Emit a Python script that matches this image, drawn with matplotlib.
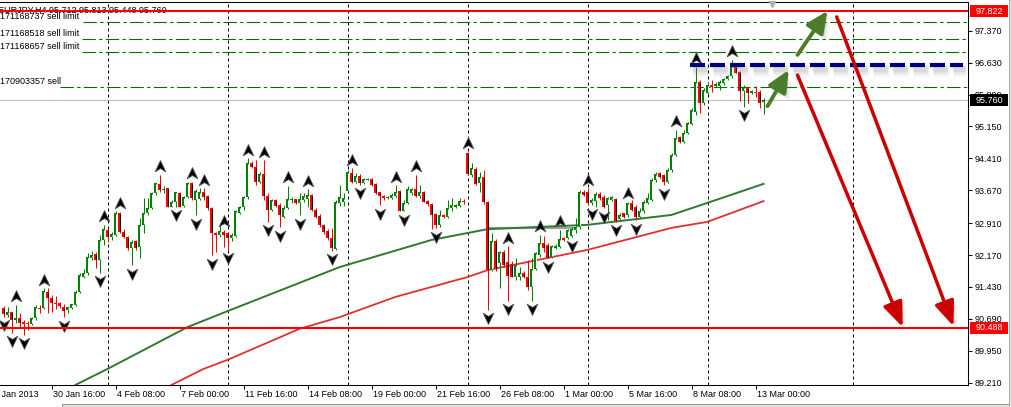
import matplotlib
matplotlib.use("Agg")
import matplotlib.pyplot as plt
import matplotlib.patheffects as pe
import matplotlib.transforms as mtransforms
from matplotlib.patches import Rectangle
from matplotlib.path import Path
import numpy as np

plt.rcParams['font.family'] = ['Liberation Sans', 'DejaVu Sans']
plt.rcParams['font.size'] = 6.5

# EURJPY H4 bars, 28 Jan 16:00 .. 13 Mar 08:00 2013
opens = [90.94, 90.77, 90.84, 90.66, 90.70, 90.61, 90.60, 90.57, 90.70, 90.95,
         90.94, 91.32, 91.17, 91.05, 91.05, 90.97, 90.90, 90.95, 91.01, 91.31,
         91.67, 91.75, 92.09, 92.19, 92.06, 92.52, 92.74, 92.58, 92.64, 93.14,
         92.71, 92.58, 92.33, 92.50, 92.36, 92.87, 93.14, 93.25, 93.60, 93.81,
         93.68, 93.72, 93.29, 93.41, 93.60, 93.31, 93.52, 93.83, 93.45, 93.46,
         93.62, 93.54, 93.25, 92.67, 92.63, 92.71, 92.67, 92.56, 92.60, 93.15,
         93.28, 93.51, 94.31, 94.22, 93.87, 94.05, 93.55, 93.21, 93.45, 93.33,
         93.06, 93.25, 93.45, 93.46, 93.37, 93.45, 93.48, 93.56, 93.21, 93.08,
         92.87, 92.73, 92.56, 92.30, 93.38, 93.41, 93.66, 94.07, 93.87, 94.00,
         93.85, 93.92, 93.93, 93.81, 93.62, 93.54, 93.49, 93.49, 93.55, 93.66,
         93.20, 93.37, 93.60, 93.69, 93.55, 93.64, 93.43, 93.35, 93.11, 92.87,
         93.10, 93.05, 93.25, 93.28, 93.31, 93.43, 94.53, 94.03, 94.16, 93.83,
         93.97, 93.41, 91.82, 92.50, 91.99, 92.25, 92.02, 91.96, 91.67, 91.67,
         91.75, 91.67, 91.44, 91.84, 92.17, 92.44, 92.40, 92.12, 92.33, 92.35,
         92.56, 92.56, 92.61, 92.74, 92.81, 93.64, 93.64, 93.37, 93.43, 93.59,
         93.52, 93.32, 93.45, 93.46, 93.00, 93.14, 93.10, 93.37, 93.29, 93.06,
         93.18, 93.38, 93.45, 93.91, 94.08, 94.03, 93.87, 94.13, 94.49, 94.90,
         94.80, 94.99, 95.21, 95.49, 96.19, 95.70, 95.93, 96.11, 96.09, 96.10,
         96.15, 96.24, 96.31, 96.58, 96.41, 95.98, 96.04, 95.92, 95.96, 95.96,
         95.712]
highs = [90.99, 90.97, 90.86, 91.01, 90.83, 90.66, 90.63, 90.74, 91.01, 91.01,
         91.40, 91.40, 91.24, 91.23, 91.09, 91.04, 90.97, 91.04, 91.36, 91.75,
         91.84, 92.21, 92.26, 92.25, 92.64, 92.87, 92.77, 92.71, 93.18, 93.17,
         92.77, 92.61, 92.53, 92.53, 93.02, 93.49, 93.49, 93.62, 93.85, 94.03,
         93.77, 93.73, 93.45, 93.64, 93.64, 93.54, 93.87, 93.87, 93.70, 93.72,
         93.72, 93.56, 93.28, 92.71, 92.91, 92.75, 92.71, 92.67, 93.21, 93.31,
         93.54, 94.41, 94.34, 94.37, 94.10, 94.37, 93.60, 93.48, 93.48, 93.37,
         93.33, 93.77, 93.51, 93.48, 93.60, 93.60, 93.69, 93.59, 93.25, 93.12,
         92.89, 92.77, 92.79, 93.45, 93.79, 93.60, 94.14, 94.18, 94.07, 94.05,
         93.96, 93.95, 93.95, 93.83, 93.64, 93.56, 93.55, 93.60, 93.79, 93.68,
         93.45, 93.76, 93.73, 94.03, 93.79, 93.66, 93.45, 93.37, 93.14, 93.22,
         93.12, 93.45, 93.49, 93.36, 93.49, 93.46, 94.57, 94.30, 94.20, 94.10,
         94.14, 93.42, 92.67, 92.55, 92.27, 92.28, 92.37, 92.04, 92.09, 91.90,
         91.79, 92.06, 92.09, 92.25, 92.64, 92.60, 92.46, 92.40, 92.42, 92.75,
         92.58, 92.78, 92.83, 93.02, 93.68, 93.68, 93.72, 93.49, 93.64, 93.62,
         93.56, 93.52, 93.54, 93.49, 93.15, 93.15, 93.41, 93.45, 93.33, 93.25,
         93.45, 93.60, 93.95, 94.10, 94.10, 94.06, 94.18, 94.53, 95.08, 94.92,
         95.07, 95.26, 95.57, 96.54, 96.23, 96.04, 96.17, 96.23, 96.17, 96.23,
         96.27, 96.35, 96.69, 96.61, 96.44, 96.11, 96.07, 96.00, 96.09, 96.00,
         95.813]
lows = [90.74, 90.74, 90.37, 90.59, 90.51, 90.32, 90.43, 90.55, 90.66, 90.83,
        90.91, 90.83, 90.86, 90.93, 90.95, 90.73, 90.82, 90.93, 90.99, 91.28,
        91.63, 91.71, 92.06, 91.86, 91.76, 92.40, 92.48, 92.52, 92.61, 92.67,
        92.56, 92.29, 91.94, 92.29, 92.09, 92.67, 93.10, 93.23, 93.56, 93.64,
        93.60, 93.28, 93.28, 93.29, 93.28, 93.29, 93.49, 93.45, 93.10, 93.45,
        93.45, 93.21, 92.17, 92.25, 92.58, 92.36, 92.29, 92.50, 92.58, 93.12,
        93.21, 93.48, 94.18, 93.79, 93.85, 93.45, 92.94, 93.20, 93.28, 92.81,
        93.04, 93.23, 93.38, 93.35, 93.10, 93.41, 93.29, 93.20, 93.02, 92.83,
        92.66, 92.52, 92.27, 92.29, 93.31, 93.31, 93.64, 93.83, 93.83, 93.80,
        93.82, 93.90, 93.77, 93.58, 93.33, 93.45, 93.46, 93.46, 93.52, 93.18,
        93.18, 93.35, 93.56, 93.52, 93.49, 93.39, 93.30, 92.77, 92.79, 92.83,
        93.02, 93.02, 93.18, 93.25, 93.28, 93.36, 94.03, 93.99, 93.79, 93.64,
        93.35, 90.90, 91.79, 91.80, 91.40, 91.90, 91.11, 91.65, 91.59, 91.59,
        91.63, 91.35, 91.11, 91.82, 92.13, 92.23, 92.09, 92.09, 92.30, 92.33,
        92.49, 92.54, 92.58, 92.69, 92.78, 93.54, 93.33, 93.33, 93.29, 93.45,
        93.25, 92.98, 93.42, 92.94, 92.98, 93.02, 93.06, 93.18, 92.98, 93.02,
        93.14, 93.35, 93.43, 93.87, 93.96, 93.79, 93.85, 94.10, 94.47, 94.77,
        94.76, 94.97, 95.19, 95.42, 95.46, 95.65, 95.90, 95.96, 96.06, 96.00,
        96.11, 96.22, 96.27, 96.38, 95.73, 95.61, 95.69, 95.90, 95.84, 95.57,
        95.448]
closes = [90.80, 90.84, 90.66, 90.72, 90.59, 90.58, 90.57, 90.70, 90.97, 90.91,
          91.34, 91.17, 91.05, 91.04, 91.00, 90.88, 90.96, 91.03, 91.31, 91.71,
          91.76, 92.13, 92.17, 92.06, 92.53, 92.77, 92.58, 92.66, 93.14, 92.71,
          92.58, 92.34, 92.48, 92.33, 92.87, 93.14, 93.25, 93.60, 93.83, 93.68,
          93.70, 93.29, 93.41, 93.62, 93.29, 93.52, 93.83, 93.49, 93.66, 93.62,
          93.52, 93.25, 92.67, 92.63, 92.73, 92.63, 92.56, 92.63, 93.18, 93.28,
          93.51, 94.30, 94.22, 93.87, 94.05, 93.55, 93.21, 93.45, 93.31, 93.10,
          93.25, 93.46, 93.46, 93.37, 93.48, 93.54, 93.56, 93.21, 93.06, 92.87,
          92.70, 92.56, 92.33, 93.41, 93.51, 93.49, 94.09, 93.87, 94.00, 93.83,
          93.93, 93.93, 93.79, 93.60, 93.55, 93.49, 93.52, 93.56, 93.64, 93.20,
          93.38, 93.69, 93.69, 93.55, 93.64, 93.41, 93.35, 93.10, 92.87, 93.10,
          93.05, 93.25, 93.33, 93.33, 93.42, 93.39, 94.06, 94.18, 93.82, 93.99,
          93.39, 91.82, 92.50, 91.84, 92.25, 91.94, 91.69, 91.67, 91.94, 91.76,
          91.65, 91.44, 91.84, 92.21, 92.44, 92.33, 92.11, 92.37, 92.38, 92.54,
          92.52, 92.75, 92.77, 92.83, 93.64, 93.56, 93.37, 93.45, 93.59, 93.49,
          93.29, 93.49, 93.51, 92.97, 93.10, 93.06, 93.37, 93.21, 93.06, 93.20,
          93.41, 93.49, 93.91, 94.06, 93.99, 93.87, 94.14, 94.49, 94.88, 94.80,
          95.01, 95.22, 95.53, 96.19, 95.70, 96.00, 96.11, 96.07, 96.14, 96.17,
          96.24, 96.32, 96.55, 96.40, 95.98, 96.06, 95.92, 95.98, 95.93, 95.69,
          95.760]

# Bill Williams fractals (bar numbers)
up_fractals = [3, 10, 25, 29, 39, 47, 50, 55, 61, 65, 71, 76, 87, 98, 103, 116,
               126, 134, 139, 146, 156, 168, 173, 182]
down_fractals = [0, 2, 5, 15, 24, 32, 43, 48, 52, 56, 66, 69, 74, 82, 89, 94,
                 100, 108, 121, 126, 132, 136, 142, 147, 150, 153, 158, 165, 185]

# moving averages, sampled along the curves
ma_green_bar = [18, 26, 46, 56, 84, 107, 121, 146, 167, 176, 190]
ma_green = [89.16, 89.53, 90.50, 90.87, 91.89, 92.52, 92.77, 92.87, 93.10, 93.38, 93.82]
ma_red_bar = [42, 50, 56, 74, 84, 98, 116, 121, 146, 167, 176, 190]
ma_red = [89.16, 89.53, 89.74, 90.46, 90.73, 91.20, 91.66, 91.82, 92.29, 92.80, 92.94, 93.42]

# axis labels
date_bars = [-4, 12, 28, 44, 60, 76, 92, 108, 124, 140, 156, 172, 188]
date_labels = ["28 Jan 2013", "30 Jan 16:00", "4 Feb 08:00", "7 Feb 00:00", "11 Feb 16:00",
               "14 Feb 08:00", "19 Feb 00:00", "21 Feb 16:00", "26 Feb 08:00", "1 Mar 00:00",
               "5 Mar 16:00", "8 Mar 08:00", "13 Mar 00:00"]
price_ticks = [97.370, 96.630, 95.890, 95.150, 94.410, 93.670, 92.910, 92.170,
               91.430, 90.690, 89.950, 89.210]
grid_bars = [26, 56, 86, 116, 146, 176, 212.25]

# chart objects
red_levels = [97.822, 90.488]
order_prices = [97.565, 97.17, 96.87, 96.06]
order_labels = ["171168737 sell limit", "171168518 sell limit", "171168657 sell limit", "170903357 sell"]
order_line_start = [0.086, 0.085, 0.085, 0.062]
last_price = 95.760
resistance = 96.575
resistance_bars = [171.5, 239.75]
flat_level = 92.80
flat_bars = [121, 143]
green_arrows = [((191, 95.62), (196.3, 96.46)), ((198.5, 96.81), (206, 97.83))]
red_arrows = [((198.5, 96.34), (224.8, 90.50)), ((208.3, 97.69), (237.5, 90.52))]
title = "EURJPY,H4 95.712 95.813 95.448 95.760"

px = 0.02318  # price per screen pixel

fig = plt.figure(figsize=(10.11, 4.07), dpi=100)
ax = fig.add_axes([0, 22 / 407, 968 / 1011, 383 / 407])
ax.set_xlim(-0.875, 241.125)
ax.set_ylim(89.1577, 98.0356)

for g in grid_bars:
    ax.axvline(g, color='black', lw=0.72, dashes=(3, 3), zorder=0.5)

ax.axhline(last_price, color='#c0c0c0', lw=0.75, zorder=0.6)
ax.plot(flat_bars, [flat_level, flat_level], color='#a0a0a0', lw=1.6, zorder=0.8)
ax.plot(ma_green_bar, ma_green, color='#2f7a2f', lw=1.4, zorder=1)
ax.plot(ma_red_bar, ma_red, color='#e03030', lw=1.3, zorder=1)

# candles
x = np.arange(len(opens))
o = np.array(opens)
h = np.array(highs)
l = np.array(lows)
c = np.array(closes)
bull = c >= o
edge = np.where(bull, '#008000', '#ff0000')
lo = np.minimum(o, c)
hi = np.maximum(np.maximum(o, c), lo + px)
ax.vlines(x, l, h, colors=edge, lw=0.75, zorder=2)
ax.bar(x, hi - lo, bottom=lo, width=0.75, color=edge, lw=0, zorder=2.1)
inner = (hi - lo) > 2.5 * px
ax.vlines(x[inner], lo[inner] + px, hi[inner] - px,
          colors=np.where(bull, 'white', 'black')[inner], lw=0.75, zorder=2.2)

# fractal arrows
up_mark = Path([(0, 1), (0.9, -0.9), (0, -0.35), (-0.9, -0.9), (0, 1)],
               [Path.MOVETO, Path.LINETO, Path.LINETO, Path.LINETO, Path.CLOSEPOLY])
down_mark = Path([(0, -1), (0.9, 0.9), (0, 0.35), (-0.9, 0.9), (0, -1)],
                 [Path.MOVETO, Path.LINETO, Path.LINETO, Path.LINETO, Path.CLOSEPOLY])
ax.plot(up_fractals, h[up_fractals] + 0.2, ls='none', marker=up_mark, ms=8.5,
        color='black', mec='#555555', mew=0.6, zorder=3)
ax.plot(down_fractals, l[down_fractals] - 0.2, ls='none', marker=down_mark, ms=8.5,
        color='black', mec='#555555', mew=0.6, zorder=3)

# pending orders and levels
above = mtransforms.offset_copy(ax.transData, fig=fig, x=0, y=3, units='dots')
for p, lab, start in zip(order_prices, order_labels, order_line_start):
    ax.axhline(p, xmin=start, color='#007000', lw=0.8, dashes=(12, 3, 3, 3), zorder=1.5)
    ax.text(-0.875, p, lab, transform=above, va='baseline', ha='left', zorder=1.5)
for p in red_levels:
    ax.axhline(p, color='#ff0000', lw=1.5, zorder=3)

# soft shadow built from a few faint offset copies
soft = [pe.SimpleLineShadow(offset=(1.5, -2), shadow_color='gray', alpha=0.12, linewidth=5),
        pe.SimpleLineShadow(offset=(2.5, -3.5), shadow_color='gray', alpha=0.12, linewidth=6),
        pe.SimpleLineShadow(offset=(3.5, -5), shadow_color='gray', alpha=0.08, linewidth=7),
        pe.Normal()]
ax.plot(resistance_bars, [resistance, resistance], color='#000080', lw=3,
        dashes=(3.6, 1.2), zorder=4, path_effects=soft)

arrow_shadow = [pe.SimplePatchShadow(offset=(2, -2.5), shadow_rgbFace='gray', alpha=0.2),
                pe.SimplePatchShadow(offset=(3.5, -4.5), shadow_rgbFace='gray', alpha=0.12),
                pe.Normal()]
for (a, b) in green_arrows:
    ar = ax.annotate('', xy=b, xytext=a, zorder=5,
                     arrowprops=dict(arrowstyle='-|>,head_length=0.65,head_width=0.3',
                                     mutation_scale=20, lw=2.8, color='#4b7c2a',
                                     shrinkA=0, shrinkB=0))
    ar.arrow_patch.set_path_effects(arrow_shadow)
for (a, b) in red_arrows:
    ar = ax.annotate('', xy=b, xytext=a, zorder=5,
                     arrowprops=dict(arrowstyle='-|>,head_length=0.75,head_width=0.3',
                                     mutation_scale=20, lw=2.5, color='#cc0000',
                                     shrinkA=0, shrinkB=0))
    ar.arrow_patch.set_path_effects(arrow_shadow)

# chart shift marker
ax.plot([192.1], [97.99], marker='v', color='#b0b0b0', ms=4, clip_on=False, zorder=5)

ax.text(-2 / 968, 1 - 10.5 / 383, title, transform=ax.transAxes, va='baseline', ha='left', zorder=1.5)

# axes look
for side in ['top', 'right', 'bottom']:
    ax.spines[side].set_linewidth(0.75)
ax.spines['left'].set_visible(False)
ax.yaxis.tick_right()
ax.set_yticks(price_ticks)
ax.set_yticklabels(["%.3f" % t for t in price_ticks])
ax.tick_params(axis='y', direction='out', length=2.9, width=0.75, pad=2.2, labelsize=6.5)
ax.set_xticks(date_bars[1:])
ax.set_xticklabels([])
ax.tick_params(axis='x', direction='out', length=2.9, width=0.75)
below = mtransforms.blended_transform_factory(ax.transData, ax.transAxes)
for b, lab in zip(date_bars, date_labels):
    ax.text(b + 0.3, -9.5 / 383, lab, transform=below, ha='left', va='center', clip_on=False)

# price boxes on the scale
side = mtransforms.blended_transform_factory(ax.transAxes, ax.transData)
for p, fc in [(red_levels[0], '#ff0000'), (last_price, 'black'), (red_levels[1], '#ff0000')]:
    ax.add_patch(Rectangle((970 / 968, p - 6 * px), 38 / 968, 12 * px, transform=side,
                           fc=fc, ec='none', clip_on=False, zorder=6))
    ax.text(989 / 968, p, "%.3f" % p, transform=side, ha='center', va='center',
            color='white', zorder=7, clip_on=False)

# window frame bits
fig.patches.append(Rectangle((62 / 1011, 0), 1, 3.5 / 407, transform=fig.transFigure,
                             fc='#e4e2dc', ec='#909090', lw=0.7))
fig.patches.append(Rectangle((1008.5 / 1011, 0), 0.01, 1, transform=fig.transFigure,
                             fc='#e4e2dc', ec='#b0b0b0', lw=0.7))

fig.savefig("out.png", dpi=100)
